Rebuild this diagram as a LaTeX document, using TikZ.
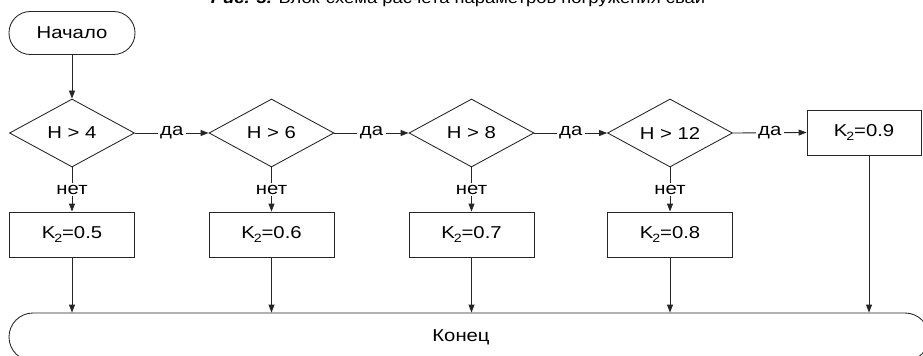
\documentclass[tikz,border=0pt]{standalone}
\usepackage{fontspec}
\setmainfont[FakeStretch=1.18]{Liberation Sans}
\usetikzlibrary{shapes.geometric,arrows.meta}
\newcommand\subtwo{\kern-0.8pt\raisebox{-3.2pt}{\fontsize{9}{9}\selectfont 2}}
\begin{document}
\begin{tikzpicture}[x=0.75pt,y=-0.75pt,
  every node/.style={font=\fontsize{12.9}{15}\selectfont, inner sep=0pt},
  line/.style={line width=0.65pt, draw=black!85},
  arr/.style={line, -{Triangle[length=6pt,width=4.5pt]}},
  term/.style={line, rectangle, rounded corners=16pt, minimum width=94.5pt, minimum height=32.25pt},
  endterm/.style={line, rectangle, rounded corners=18pt, minimum width=690pt, minimum height=36pt},
  cond/.style={line, diamond, aspect=1.84, minimum width=93.75pt, minimum height=51pt},
  proc/.style={line, rectangle, minimum width=93.75pt, minimum height=33.75pt},
  lbl/.style={fill=white, inner xsep=2pt, inner ysep=1pt}
]
\useasboundingbox (0,0) rectangle (923,356);

\node[anchor=base, font=\fontsize{11.7}{13}\selectfont] (cap) at (458,4)
  {\textbf{\textit{Рис. 3.}} Блок-схема расчета параметров погружения свай};

\node[term] (start) at (72,33) {Начало};

\node[cond] (d1) at (72,133) {H > 4};
\node[cond] (d2) at (271.5,133) {H > 6};
\node[cond] (d3) at (471.5,133) {H > 8};
\node[cond] (d4) at (670,133) {H > 12};

\node[proc] (b1) at (72,234.5) {K\subtwo=0.5};
\node[proc] (b2) at (271.5,234.5) {K\subtwo=0.6};
\node[proc] (b3) at (471.5,234.5) {K\subtwo=0.7};
\node[proc] (b4) at (670,234.5) {K\subtwo=0.8};
\node[proc, minimum width=85.5pt] (b5) at (864,132.5) {K\subtwo=0.9};

\node[endterm] (end) at (469,337) {\hspace*{-12pt}Конец};

\draw[arr] (start) -- (d1);

\draw[arr] (d1.east) -- node[lbl] {да} (d2.west);
\draw[arr] (d2.east) -- node[lbl] {да} (d3.west);
\draw[arr] (d3.east) -- node[lbl] {да} (d4.west);
\draw[arr] (d4.east) -- node[lbl] {да} (b5.west);

\draw[arr] (d1.south) -- node[lbl] {нет} (b1.north);
\draw[arr] (d2.south) -- node[lbl] {нет} (b2.north);
\draw[arr] (d3.south) -- node[lbl] {нет} (b3.north);
\draw[arr] (d4.south) -- node[lbl] {нет} (b4.north);

\draw[arr] (b1.south) -- (b1.south |- end.north);
\draw[arr] (b2.south) -- (b2.south |- end.north);
\draw[arr] (b3.south) -- (b3.south |- end.north);
\draw[arr] (b4.south) -- (b4.south |- end.north);
\draw[arr] ([xshift=3.75pt]b5.south) -- ([xshift=3.75pt]b5.south |- end.north);
\end{tikzpicture}
\end{document}
